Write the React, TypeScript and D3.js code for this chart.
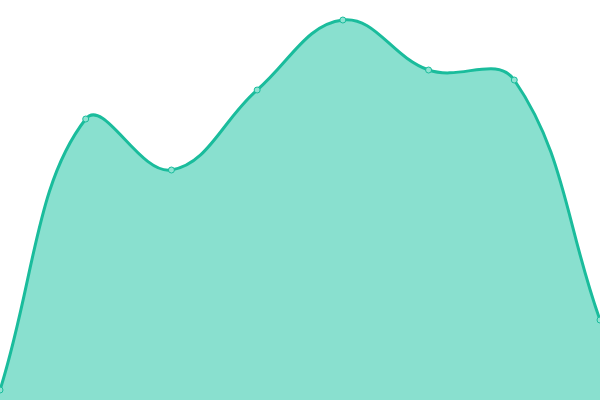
import React from "react";
import * as d3 from "d3";

const W = 600;
const H = 400;

const categories = ["A", "B", "C", "D", "E", "F", "G", "H"];
const values = [10, 281, 230, 310, 380, 330, 320, 80];
const yDomain = [0, 400];
const TENSION = 0.4;

type P = { x: number; y: number };

function splinePath(pts: P[], path: d3.Path) {
  const n = pts.length;
  const cps = pts.map((cur, i) => {
    const prev = i > 0 ? pts[i - 1] : cur;
    const next = i < n - 1 ? pts[i + 1] : cur;
    const d01 = Math.hypot(cur.x - prev.x, cur.y - prev.y);
    const d12 = Math.hypot(next.x - cur.x, next.y - cur.y);
    let s01 = d01 / (d01 + d12);
    let s12 = d12 / (d01 + d12);
    if (isNaN(s01)) s01 = 0;
    if (isNaN(s12)) s12 = 0;
    const fa = TENSION * s01;
    const fb = TENSION * s12;
    const clampX = (v: number) => Math.max(0, Math.min(W, v));
    const clampY = (v: number) => Math.max(0, Math.min(H, v));
    return {
      pX: clampX(cur.x - fa * (next.x - prev.x)),
      pY: clampY(cur.y - fa * (next.y - prev.y)),
      nX: clampX(cur.x + fb * (next.x - prev.x)),
      nY: clampY(cur.y + fb * (next.y - prev.y)),
    };
  });
  path.moveTo(pts[0].x, pts[0].y);
  for (let i = 1; i < n; i++) {
    path.bezierCurveTo(cps[i - 1].nX, cps[i - 1].nY, cps[i].pX, cps[i].pY, pts[i].x, pts[i].y);
  }
  return path;
}

export default function App() {
  const x = d3.scalePoint<string>().domain(categories).range([0, W]);
  const y = d3.scaleLinear().domain(yDomain).range([H, 0]);
  const pts: P[] = categories.map((c, i) => ({ x: x(c) as number, y: y(values[i]) }));

  const linePath = splinePath(pts, d3.path()).toString();
  const areaP = splinePath(pts, d3.path());
  areaP.lineTo(pts[pts.length - 1].x, y(yDomain[0]));
  areaP.lineTo(pts[0].x, y(yDomain[0]));
  areaP.closePath();

  return (
    <svg
      width={W}
      height={H}
      style={{ position: "fixed", left: 0, top: 0, display: "block" }}
    >
      <path d={areaP.toString()} fill="#89e0cf" stroke="none" />
      <path d={linePath} fill="none" stroke="#1abc9c" strokeWidth={3} />
      {pts.map((p, i) => (
        <circle
          key={categories[i]}
          cx={p.x}
          cy={p.y}
          r={3}
          fill="#8ee3d2"
          stroke="#1abc9c"
          strokeWidth={1}
        />
      ))}
    </svg>
  );
}
